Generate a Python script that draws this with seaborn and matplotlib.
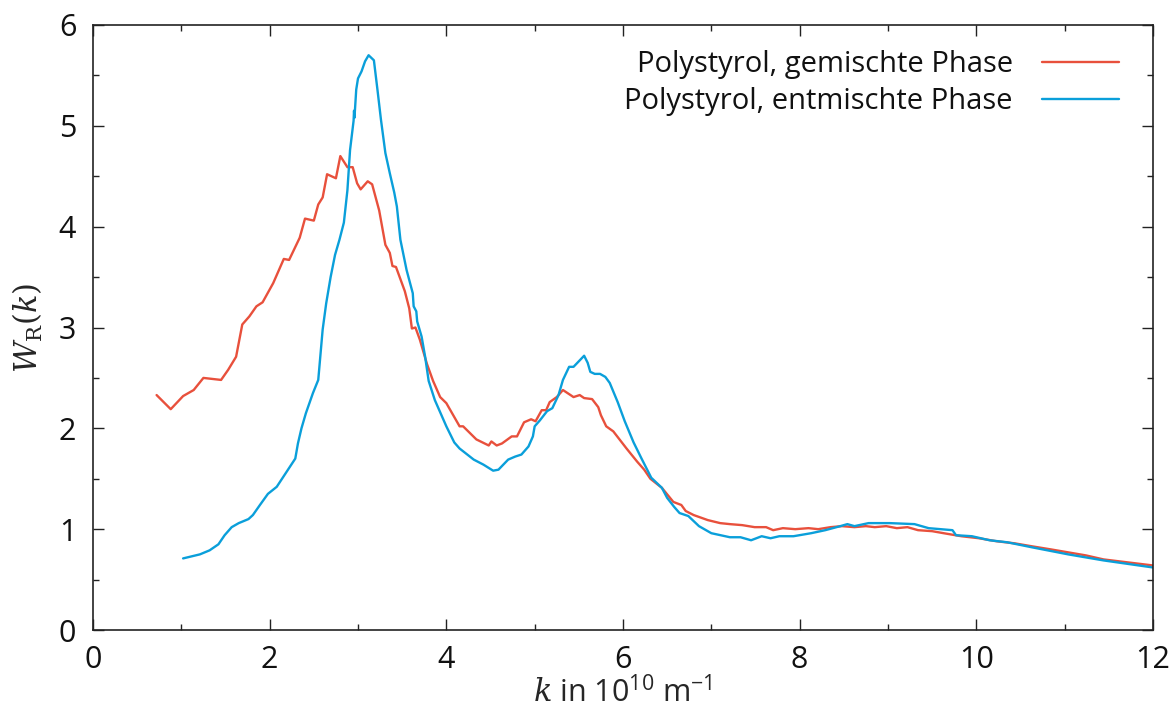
import matplotlib
matplotlib.use("Agg")
import matplotlib.pyplot as plt
from matplotlib.ticker import MultipleLocator
import seaborn as sns
import pandas as pd

# Mixed phase (gemischte Phase)
k_mixed = [0.72, 0.88, 1.02, 1.14, 1.25, 1.45, 1.53, 1.62, 1.69, 1.77, 1.85, 1.92,
           2.04, 2.16, 2.22, 2.34, 2.40, 2.50, 2.55, 2.60, 2.65, 2.75, 2.80, 2.88,
           2.94, 2.99, 3.03, 3.11, 3.16, 3.24, 3.31, 3.36, 3.39, 3.43, 3.53, 3.58,
           3.61, 3.65, 3.70, 3.78, 3.85, 3.93, 4.00, 4.15, 4.19, 4.34, 4.48, 4.51,
           4.57, 4.63, 4.74, 4.80, 4.88, 4.96, 5.01, 5.08, 5.13, 5.17, 5.25, 5.32,
           5.44, 5.51, 5.56, 5.65, 5.72, 5.75, 5.81, 5.89, 6.04, 6.16, 6.24, 6.31,
           6.44, 6.57, 6.66, 6.71, 6.80, 6.96, 7.10, 7.21, 7.35, 7.49, 7.62, 7.70,
           7.81, 7.95, 8.10, 8.21, 8.35, 8.48, 8.62, 8.75, 8.85, 8.98, 9.10, 9.22,
           9.34, 9.50, 9.63, 9.83, 10.03, 10.23, 10.43, 10.63, 10.84, 11.04, 11.24,
           11.44, 11.72, 12.00]
w_mixed = [2.33, 2.19, 2.32, 2.38, 2.50, 2.48, 2.58, 2.71, 3.03, 3.11, 3.21, 3.25,
           3.44, 3.68, 3.67, 3.89, 4.08, 4.06, 4.22, 4.29, 4.52, 4.48, 4.70, 4.59,
           4.59, 4.43, 4.37, 4.45, 4.42, 4.16, 3.82, 3.74, 3.61, 3.60, 3.36, 3.19,
           2.99, 3.00, 2.88, 2.64, 2.47, 2.31, 2.25, 2.02, 2.02, 1.89, 1.83, 1.87,
           1.83, 1.85, 1.92, 1.92, 2.06, 2.09, 2.07, 2.18, 2.18, 2.26, 2.31, 2.38,
           2.31, 2.33, 2.30, 2.29, 2.21, 2.13, 2.02, 1.97, 1.80, 1.67, 1.59, 1.50,
           1.41, 1.27, 1.24, 1.18, 1.14, 1.09, 1.06, 1.05, 1.04, 1.02, 1.02, 0.99,
           1.01, 1.00, 1.01, 1.00, 1.02, 1.03, 1.02, 1.03, 1.02, 1.03, 1.01, 1.02,
           0.99, 0.98, 0.96, 0.93, 0.91, 0.88, 0.86, 0.83, 0.80, 0.77, 0.74,
           0.70, 0.67, 0.64]

# Demixed phase (entmischte Phase)
k_demixed = [1.02, 1.21, 1.32, 1.42, 1.49, 1.57, 1.65, 1.76, 1.81, 1.89, 1.98, 2.08,
             2.17, 2.23, 2.29, 2.32, 2.36, 2.41, 2.49, 2.55, 2.60, 2.64, 2.69, 2.74,
             2.79, 2.84, 2.88, 2.91, 2.95, 2.955, 2.96, 2.98, 3.00, 3.04, 3.08, 3.12,
             3.18, 3.22, 3.26, 3.31, 3.36, 3.41, 3.44, 3.48, 3.55, 3.62, 3.63, 3.66,
             3.67, 3.72, 3.76, 3.80, 3.87, 3.95, 4.00, 4.09, 4.15, 4.31, 4.42, 4.53,
             4.59, 4.70, 4.78, 4.85, 4.93, 4.98, 5.00, 5.06, 5.14, 5.20, 5.27, 5.32,
             5.39, 5.44, 5.56, 5.60, 5.63, 5.68, 5.74, 5.80, 5.85, 5.94, 6.02, 6.12,
             6.21, 6.32, 6.44, 6.50, 6.58, 6.64, 6.74, 6.86, 7.00, 7.21, 7.33, 7.45,
             7.57, 7.67, 7.77, 7.93, 8.13, 8.29, 8.46, 8.54, 8.62, 8.78, 9.02, 9.30,
             9.46, 9.73, 9.77, 9.95, 10.15, 10.35, 10.63, 11.04, 11.44, 12.00]
w_demixed = [0.71, 0.75, 0.79, 0.85, 0.94, 1.02, 1.06, 1.10, 1.14, 1.24, 1.35, 1.42,
             1.54, 1.62, 1.70, 1.85, 2.00, 2.15, 2.35, 2.48, 2.98, 3.24, 3.50, 3.72,
             3.87, 4.04, 4.36, 4.76, 5.05, 5.15, 5.08, 5.36, 5.47, 5.54, 5.64, 5.70,
             5.65, 5.36, 5.06, 4.73, 4.53, 4.34, 4.20, 3.87, 3.57, 3.34, 3.21, 3.16,
             3.06, 2.91, 2.71, 2.47, 2.28, 2.12, 2.02, 1.86, 1.80, 1.69, 1.64, 1.58,
             1.59, 1.69, 1.72, 1.74, 1.82, 1.92, 2.02, 2.08, 2.17, 2.20, 2.33, 2.48,
             2.61, 2.61, 2.72, 2.65, 2.56, 2.54, 2.54, 2.51, 2.45, 2.26, 2.07, 1.86,
             1.70, 1.51, 1.41, 1.31, 1.22, 1.16, 1.13, 1.03, 0.96, 0.92, 0.92, 0.89,
             0.93, 0.91, 0.93, 0.93, 0.96, 0.99, 1.03, 1.05, 1.03, 1.06, 1.06, 1.05,
             1.01, 0.99, 0.94, 0.93, 0.89, 0.87, 0.82, 0.75, 0.69, 0.62]

label_mixed = "Polystyrol, gemischte Phase"
label_demixed = "Polystyrol, entmischte Phase"

df = pd.concat([
    pd.DataFrame({"k": k_mixed, "W": w_mixed, "Probe": label_mixed}),
    pd.DataFrame({"k": k_demixed, "W": w_demixed, "Probe": label_demixed}),
], ignore_index=True)

sns.set_theme(style="ticks")
plt.rcParams["font.family"] = ["Open Sans", "DejaVu Sans"]
plt.rcParams["text.color"] = "#111111"
plt.rcParams["mathtext.fontset"] = "custom"
plt.rcParams["mathtext.rm"] = "DejaVu Serif"
plt.rcParams["mathtext.it"] = "DejaVu Serif:italic"
plt.rcParams["mathtext.sf"] = "Open Sans"

fig = plt.figure(figsize=(11.76, 7.17), dpi=100)
ax = fig.add_axes([93 / 1176, 1 - 630 / 717, 1060 / 1176, 605 / 717])

palette = {label_mixed: "#E8503C", label_demixed: "#0A9FDA"}
sns.lineplot(data=df, x="k", y="W", hue="Probe", palette=palette,
             estimator=None, sort=False, linewidth=1.7, ax=ax)

ax.set_xlim(0, 12)
ax.set_ylim(0, 6)
ax.xaxis.set_major_locator(MultipleLocator(2))
ax.xaxis.set_minor_locator(MultipleLocator(1))
ax.yaxis.set_major_locator(MultipleLocator(1))
ax.yaxis.set_minor_locator(MultipleLocator(0.5))
ax.tick_params(which="both", direction="in", top=True, right=True,
               width=1.0, color="#222222", labelcolor="#111111")
ax.tick_params(which="major", length=8, labelsize=22)
ax.tick_params(axis="x", which="major", pad=11)
ax.tick_params(axis="y", which="major", pad=12)
ax.tick_params(which="minor", length=4)
for s in ax.spines.values():
    s.set_linewidth(1.2)
    s.set_color("#222222")

ax.set_xlabel(r"$k$ in 10$^{\mathsf{10}}$ m$^{\mathsf{-1}}$", fontsize=22, labelpad=1)
ax.set_ylabel(r"$W_{\mathrm{R}}(k)$", fontsize=22, labelpad=10)

leg = ax.legend(loc="upper right", bbox_to_anchor=(1.0, 1.014), frameon=False,
                markerfirst=False, fontsize=21, handlelength=2.65,
                handletextpad=1.0, labelspacing=0.28, borderaxespad=0.75)
for line in leg.get_lines():
    line.set_linewidth(1.7)

fig.savefig("out.png", dpi=100)
